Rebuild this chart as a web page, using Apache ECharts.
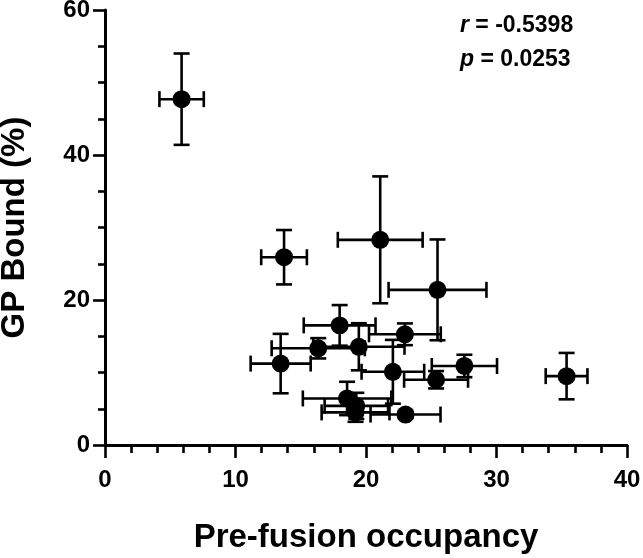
<!DOCTYPE html>
<html>
<head>
<meta charset="utf-8">
<script src="https://cdn.jsdelivr.net/npm/echarts@6/dist/echarts.min.js"></script>
<style>
  html, body { margin: 0; padding: 0; background: #fff; }
  #main { width: 643px; height: 558px; }
</style>
</head>
<body>
<div id="main"></div>
<script>
// pre-fusion occupancy (x) with error, GP bound % (y) with error
var occupancy    = [5.87, 13.72, 21.09, 25.48, 17.98, 16.34, 19.45, 22.98, 13.46, 22.06, 25.37, 27.54, 35.37, 18.55, 19.26, 19.2, 23.03];
var occupancyErr = [1.7,  1.75,  3.25,  3.75,  2.75,  3.57,  3.5,   2.75,  2.3,   2.4,   2.45,  2.5,   1.6,   3.39,  2.43,  2.6,  2.68];
var gpBound      = [47.7, 25.9,  28.3,  21.4,  16.5,  13.34, 13.55, 15.27, 11.23, 10.1,  9.0,   10.9,  9.5,   6.42,  5.4,   4.5,  4.2];
var gpBoundErr   = [6.3,  3.75,  8.75,  6.95,  2.8,   1.4,   3.25,  1.5,   4.1,   4.4,   1.2,   1.55,  3.2,   2.3,   1.8,   1.3,  0.5];

var font = '"Liberation Sans", Arial, sans-serif';

var points = [];
var bars = [];
for (var i = 0; i < occupancy.length; i++) {
  points.push([occupancy[i], gpBound[i]]);
  bars.push([occupancy[i], gpBound[i], occupancyErr[i], gpBoundErr[i]]);
}

function renderBars(params, api) {
  var x = api.value(0), y = api.value(1), xe = api.value(2), ye = api.value(3);
  var c = api.coord([x, y]);
  var l = api.coord([x - xe, y]), r = api.coord([x + xe, y]);
  var t = api.coord([x, y + ye]), b = api.coord([x, y - ye]);
  var cap = 8;
  var st = { stroke: '#000', lineWidth: 2.6 };
  var segs = [
    [l[0], c[1], r[0], c[1]],
    [l[0], c[1] - cap, l[0], c[1] + cap],
    [r[0], c[1] - cap, r[0], c[1] + cap],
    [c[0], t[1], c[0], b[1]],
    [c[0] - cap, t[1], c[0] + cap, t[1]],
    [c[0] - cap, b[1], c[0] + cap, b[1]]
  ];
  return {
    type: 'group',
    children: segs.map(function (s) {
      return { type: 'line', shape: { x1: s[0], y1: s[1], x2: s[2], y2: s[3] }, style: st };
    })
  };
}

var myChart = echarts.init(document.getElementById('main'));
myChart.setOption({
  animation: false,
  backgroundColor: '#fff',
  grid: { left: 105, right: 16, top: 10, bottom: 113, containLabel: false, outerBoundsMode: 'none' },
  title: {
    left: 460, top: 9, padding: 0,
    text: '{i|r} = -0.5398\n{i|p} = 0.0253',
    textStyle: {
      fontFamily: font, fontWeight: 'bold', fontSize: 23, color: '#000', lineHeight: 34,
      rich: { i: { fontStyle: 'italic', fontWeight: 'bold', fontSize: 23, fontFamily: font, color: '#000' } }
    }
  },
  xAxis: {
    type: 'value', min: 0, max: 40, interval: 10,
    name: 'Pre-fusion occupancy', nameLocation: 'middle', nameGap: 76,
    nameTextStyle: { fontFamily: font, fontWeight: 'bold', fontSize: 33, color: '#000' },
    axisLine: { lineStyle: { color: '#000', width: 3 } },
    axisTick: { length: 13, lineStyle: { color: '#000', width: 2.6 } },
    minorTick: { show: true, splitNumber: 5, length: 8, lineStyle: { color: '#000', width: 2.6 } },
    axisLabel: { fontFamily: font, fontWeight: 'bold', fontSize: 24, color: '#000', margin: 23 },
    splitLine: { show: false }
  },
  yAxis: {
    type: 'value', min: 0, max: 60, interval: 20,
    name: 'GP Bound (%)', nameLocation: 'middle', nameGap: 74,
    nameTextStyle: { fontFamily: font, fontWeight: 'bold', fontSize: 33, color: '#000' },
    axisLine: { show: true, lineStyle: { color: '#000', width: 3 } },
    axisTick: { show: true, length: 12, lineStyle: { color: '#000', width: 2.6 } },
    minorTick: { show: true, splitNumber: 4, length: 7, lineStyle: { color: '#000', width: 2.6 } },
    axisLabel: { fontFamily: font, fontWeight: 'bold', fontSize: 24, color: '#000', margin: 15 },
    splitLine: { show: false }
  },
  series: [
    {
      type: 'custom',
      renderItem: renderBars,
      data: bars,
      encode: { x: 0, y: 1 },
      clip: false,
      z: 2
    },
    {
      type: 'scatter',
      data: points,
      symbol: 'circle',
      symbolSize: 18,
      itemStyle: { color: '#000', opacity: 1 },
      z: 3
    }
  ]
});
</script>
</body>
</html>
